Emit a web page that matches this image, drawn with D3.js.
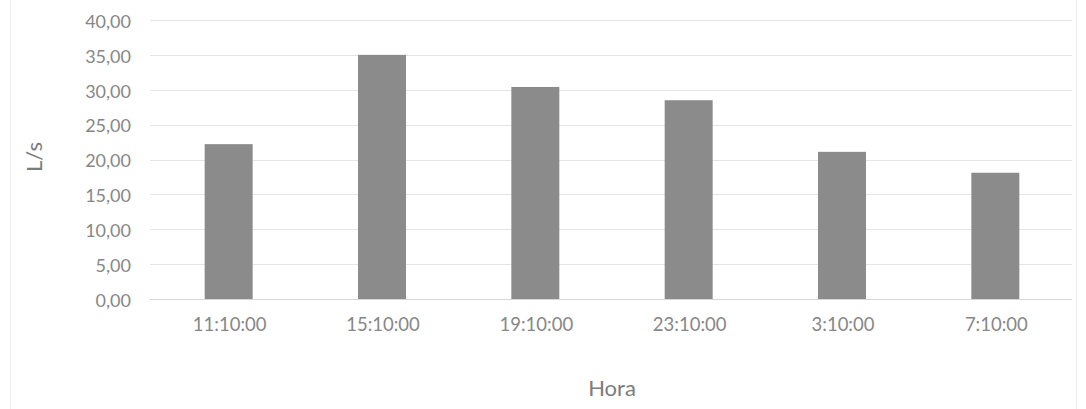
<!DOCTYPE html>
<html>
<head>
<meta charset="utf-8">
<script src="https://cdn.jsdelivr.net/npm/d3@7"></script>
<style>
  body { margin: 0; background: #fff; }
  text { font-family: Lato, "Open Sans", sans-serif; }
</style>
</head>
<body>
<div id="chart"></div>
<script>
const horas = ["11:10:00", "15:10:00", "19:10:00", "23:10:00", "3:10:00", "7:10:00"];
const caudal = [22.2, 35.0, 30.4, 28.5, 21.1, 18.1];
const yTicks = [0, 5, 10, 15, 20, 25, 30, 35, 40];

const WIDTH = 1086, HEIGHT = 409;
const plot = { left: 152, right: 1072, top: 20, bottom: 299 };

const svg = d3.select("#chart")
  .append("svg")
  .attr("width", WIDTH)
  .attr("height", HEIGHT);

// faint frame of the original chart area
svg.append("rect")
  .attr("x", 10.5).attr("y", -5)
  .attr("width", WIDTH - 20).attr("height", HEIGHT + 10)
  .attr("fill", "none")
  .attr("stroke", "#eeeeee");

const x = d3.scaleBand()
  .domain(horas)
  .range([plot.left, plot.right])
  .paddingInner(0.687)
  .paddingOuter(0.3435);

const y = d3.scaleLinear()
  .domain([0, 40])
  .range([plot.bottom, plot.top]);

// gridlines
svg.append("g")
  .selectAll("line")
  .data(yTicks)
  .join("line")
  .attr("x1", plot.left - 2)
  .attr("x2", plot.right)
  .attr("y1", d => Math.round(y(d)) + 0.5)
  .attr("y2", d => Math.round(y(d)) + 0.5)
  .attr("stroke", d => d === 0 ? "#d6d6d6" : "#e4e4e4")
  .attr("stroke-width", 1);

// y axis labels
const fmt = d => d3.format(".2f")(d).replace(".", ",");
const yAxis = svg.append("g")
  .attr("transform", "translate(131,1.5)")
  .call(d3.axisLeft(y).tickValues(yTicks).tickFormat(fmt).tickSize(0).tickPadding(0));
yAxis.select(".domain").remove();
yAxis.selectAll("text")
  .attr("fill", "#878787")
  .style("font-size", "18px");

// bars
svg.append("g")
  .selectAll("rect")
  .data(caudal)
  .join("rect")
  .attr("x", (d, i) => x(horas[i]))
  .attr("y", d => y(d))
  .attr("width", x.bandwidth())
  .attr("height", d => y(0) - y(d))
  .attr("fill", "#8b8b8b");

// x axis labels
const xAxis = svg.append("g")
  .attr("transform", `translate(1,${y(0)})`)
  .call(d3.axisBottom(x).tickSize(0).tickPadding(19));
xAxis.select(".domain").remove();
xAxis.selectAll("text")
  .attr("fill", "#878787")
  .style("font-size", "18.5px");

// axis titles
svg.append("text")
  .attr("x", (plot.left + plot.right) / 2)
  .attr("y", 396)
  .attr("text-anchor", "middle")
  .attr("fill", "#7c7c7c")
  .style("font-size", "22px")
  .text("Hora");

svg.append("text")
  .attr("transform", `translate(42,157) rotate(-90)`)
  .attr("text-anchor", "middle")
  .attr("fill", "#7c7c7c")
  .style("font-size", "22px")
  .text("L/s");
</script>
</body>
</html>
